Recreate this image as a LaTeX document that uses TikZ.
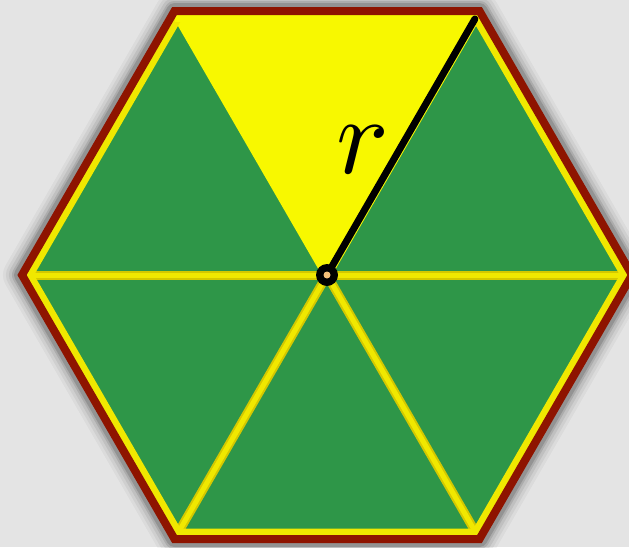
\documentclass[tikz,border=0pt]{standalone}
\usetikzlibrary{calc}
\usepackage{graphicx}
\definecolor{bgc}{HTML}{E4E4E4}
\definecolor{hexyellow}{HTML}{F8F800}
\definecolor{gapdark}{HTML}{D4C800}
\definecolor{gaplight}{HTML}{F0E800}
\definecolor{trigreen}{HTML}{2E9648}
\definecolor{rimred}{HTML}{8E1400}
\definecolor{peach}{HTML}{F5C07A}
\tikzset{
  spokeouter/.style={draw=gapdark,line width=9pt,line cap=butt},
  spokeinner/.style={draw=gaplight,line width=5pt,line cap=butt},
  spokeplain/.style={draw=hexyellow,line width=9pt,line cap=butt},
  rim/.style={draw=rimred,line width=8pt,line join=miter},
  greentri/.style={fill=trigreen},
  radius line/.style={draw=black,line width=7pt,line cap=round},
}
\begin{document}
\begin{tikzpicture}[x=1pt,y=-1pt]
\useasboundingbox (0,0) rectangle (629,547);
\fill[bgc] (0,0) rectangle (629,547);
\coordinate (O) at (327,275);
\coordinate (V0) at (632,275);
\coordinate (V1) at (479.5,11);
\coordinate (V2) at (174.5,11);
\coordinate (V3) at (22,275);
\coordinate (V4) at (174.5,539);
\coordinate (V5) at (479.5,539);
% soft shadow
\foreach \w/\o in {38/0.04,32/0.05,26/0.07,20/0.1,16/0.14}{
  \draw[black,opacity=\o,line width=\w pt,line join=round,shift={(3,4)}]
    (V0)--(V1)--(V2)--(V3)--(V4)--(V5)--cycle;
}
% hexagon body
\fill[hexyellow] (V0)--(V1)--(V2)--(V3)--(V4)--(V5)--cycle;
% green triangles
\fill[greentri] (O)--(V2)--(V3)--cycle;
\fill[greentri] (O)--(V3)--(V4)--cycle;
\fill[greentri] (O)--(V4)--(V5)--cycle;
\fill[greentri] (O)--(V5)--(V0)--cycle;
\fill[greentri] (O)--(V0)--(V1)--cycle;
% spokes
\foreach \v in {V0,V3,V4,V5}{
  \draw[spokeouter] (O)--(\v);
}
\foreach \v in {V0,V3,V4,V5}{
  \draw[spokeinner] (O)--(\v);
}
\draw[spokeplain] (O)--(V1);
\draw[spokeplain] (O)--(V2);
% inner yellow band
\begin{scope}
  \clip (V0)--(V1)--(V2)--(V3)--(V4)--(V5)--cycle;
  \draw[gaplight,line width=21pt,line join=miter] (V2)--(V3)--(V4)--(V5)--(V0)--(V1);
  \draw[hexyellow,line width=21pt] (V1)--(V2);
\end{scope}
% rim
\draw[rim] (V0)--(V1)--(V2)--(V3)--(V4)--(V5)--cycle;
% radius
\coordinate (Rend) at ($(O)!0.97!(V1)$);
\draw[radius line] (O)--(Rend);
\node[circle,fill=black,inner sep=0pt,minimum size=22pt] (c) at (O) {};
\fill[peach] (c.center) circle (3.5);
\node (r) at (363,150) {\scalebox{11}{$r$}};
\end{tikzpicture}
\end{document}
